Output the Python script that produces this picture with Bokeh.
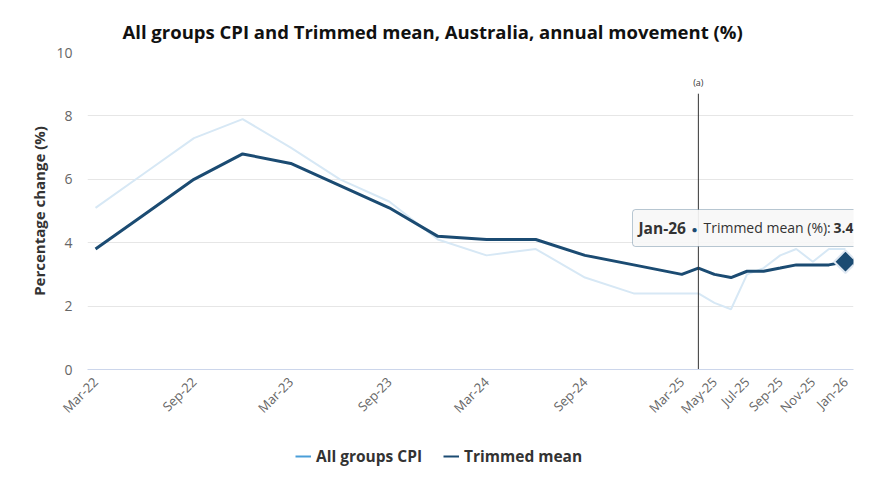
import pandas as pd
from math import pi
from bokeh.plotting import figure
from bokeh.layouts import column
from bokeh.models import (Range1d, FixedTicker, Legend, LegendItem, Label,
                          BoxAnnotation, DatetimeTickFormatter)
from bokeh.embed import file_html
from bokeh.resources import INLINE

# ---------------- data ----------------
dates = ["2022-03", "2022-06", "2022-09", "2022-12", "2023-03", "2023-06",
         "2023-09", "2023-12", "2024-03", "2024-06", "2024-09", "2024-12",
         "2025-03", "2025-04", "2025-05", "2025-06", "2025-07", "2025-08",
         "2025-09", "2025-10", "2025-11", "2025-12", "2026-01"]
all_groups_cpi = [5.1, 6.2, 7.3, 7.9, 7.0, 6.0, 5.3, 4.1, 3.6, 3.8, 2.9, 2.4,
                  2.4, 2.4, 2.1, 1.9, 3.0, 3.2, 3.6, 3.8, 3.4, 3.8, 3.8]
trimmed_mean = [3.8, 4.9, 6.0, 6.8, 6.5, 5.8, 5.1, 4.2, 4.1, 4.1, 3.6, 3.3,
                3.0, 3.2, 3.0, 2.9, 3.1, 3.1, 3.2, 3.3, 3.3, 3.3, 3.4]

tick_dates = ["2022-03", "2022-09", "2023-03", "2023-09", "2024-03", "2024-09",
              "2025-03", "2025-05", "2025-07", "2025-09", "2025-11", "2026-01"]
tick_labels = ["Mar-22", "Sep-22", "Mar-23", "Sep-23", "Mar-24", "Sep-24",
               "Mar-25", "May-25", "Jul-25", "Sep-25", "Nov-25", "Jan-26"]
y_ticks = [0, 2, 4, 6, 8, 10]

annotation_date = "2025-04"
annotation_text = "(a)"
annotation_top = 8.7

title_text = "All groups CPI and Trimmed mean, Australia, annual movement (%)"
y_label = "Percentage change (%)"
series_names = ["All groups CPI", "Trimmed mean"]
tooltip_date = "Jan-26"
tooltip_series = "Trimmed mean (%):"

# ---------------- styles ----------------
FONT = "Open Sans"
C_CPI_FADED = "#d7e8f5"
C_CPI = "#4a9ed8"
C_TM = "#1b4b72"

x = pd.to_datetime(dates)
to_ms = lambda d: pd.Timestamp(d).value // 10**6
pad = pd.Timedelta(days=15)

p = figure(width=870, height=430, x_axis_type="datetime",
           x_range=Range1d(x[0] - pad, x[-1] + pad), y_range=Range1d(0, 10),
           output_backend="svg", toolbar_location=None,
           min_border_left=87, min_border_right=17, min_border_top=52,
           min_border_bottom=61)
p.outline_line_color = None
p.background_fill_color = "white"
p.border_fill_color = "white"

# title
p.title.text = title_text
p.title.text_font = FONT
p.title.text_font_size = "18.5px"
p.title.text_font_style = "bold"
p.title.text_color = "#111111"
p.title.align = "left"
p.title.offset = 35
p.title.standoff = 18

# grid
p.xgrid.grid_line_color = None
p.ygrid.grid_line_color = "#e6e6e6"
p.ygrid.grid_line_width = 1

# y axis
p.yaxis.ticker = FixedTicker(ticks=y_ticks)
p.yaxis.axis_line_color = None
p.yaxis.major_tick_line_color = None
p.yaxis.major_tick_out = 0
p.yaxis.major_tick_in = 0
p.yaxis.minor_tick_line_color = None
p.yaxis.major_label_text_font = FONT
p.yaxis.major_label_text_font_size = "14px"
p.yaxis.major_label_text_color = "#666666"
p.yaxis.major_label_standoff = 15
p.yaxis.axis_label = y_label
p.yaxis.axis_label_text_font = FONT
p.yaxis.axis_label_text_font_size = "15px"
p.yaxis.axis_label_text_font_style = "bold"
p.yaxis.axis_label_text_color = "#333333"
p.yaxis.axis_label_standoff = 4

# x axis
p.xaxis.ticker = FixedTicker(ticks=[to_ms(d) for d in tick_dates])
p.xaxis.formatter = DatetimeTickFormatter(
    days="%b-%y", months="%b-%y", years="%b-%y", hours="%b-%y")
p.xaxis.major_label_overrides = {to_ms(d): l for d, l in zip(tick_dates, tick_labels)}
p.xaxis.major_label_orientation = pi / 4
p.xaxis.axis_line_color = "#ccd6eb"
p.xaxis.major_tick_line_color = None
p.xaxis.major_tick_out = 0
p.xaxis.major_tick_in = 0
p.xaxis.minor_tick_line_color = None
p.xaxis.major_label_text_font = FONT
p.xaxis.major_label_text_font_size = "13px"
p.xaxis.major_label_text_color = "#666666"
p.xaxis.major_label_standoff = 10

# lines
p.line(x, all_groups_cpi, line_color=C_CPI_FADED, line_width=2)
p.line(x, trimmed_mean, line_color=C_TM, line_width=3)

# annotation line
ann_x = pd.Timestamp(annotation_date)
p.segment(x0=[ann_x], y0=[0], x1=[ann_x], y1=[annotation_top],
          line_color="#333333", line_width=1)
p.add_layout(Label(x=ann_x, y=annotation_top, text=annotation_text,
                   text_font=FONT, text_font_size="9px", text_color="#333333",
                   text_align="center", text_baseline="bottom", y_offset=5))

# tooltip box
p.add_layout(BoxAnnotation(left=632, right=862, top=209, bottom=246,
                           left_units="canvas", right_units="canvas",
                           top_units="canvas", bottom_units="canvas",
                           fill_color="#f7f7f7", fill_alpha=0.92,
                           line_color=C_TM, line_width=1, border_radius=3))

# highlighted point
p.scatter([x[-1]], [trimmed_mean[-1]], marker="square", angle=pi / 4, size=16,
          fill_color=C_TM, line_color="#dfe8f2", line_width=2)

# tooltip texts
tx, ty = x[-1], trimmed_mean[-1]
p.add_layout(Label(x=tx, y=ty, x_offset=-207, y_offset=34, text=tooltip_date,
                   text_font=FONT, text_font_size="15.5px", text_font_style="bold",
                   text_color="#333333", text_baseline="middle"))
p.add_layout(Label(x=tx, y=ty, x_offset=-151, y_offset=33, text="\u25CF",
                   text_font=FONT, text_font_size="10px", text_color=C_TM,
                   text_align="center", text_baseline="middle"))
p.add_layout(Label(x=tx, y=ty, x_offset=-142, y_offset=34, text=tooltip_series,
                   text_font=FONT, text_font_size="14px",
                   text_color="#333333", text_baseline="middle"))
p.add_layout(Label(x=tx, y=ty, x_offset=8, y_offset=34,
                   text=f"{trimmed_mean[-1]:.1f}",
                   text_font=FONT, text_font_size="14px", text_font_style="bold",
                   text_color="#333333", text_baseline="middle",
                   text_align="right"))

# ---------------- legend strip ----------------
lg = figure(width=870, height=48, x_range=Range1d(0, 1), y_range=Range1d(0, 1),
            output_backend="svg", toolbar_location=None,
            min_border=0, min_border_left=0, min_border_right=0,
            min_border_top=0, min_border_bottom=0)
lg.axis.visible = False
lg.grid.visible = False
lg.outline_line_color = None
lg.border_fill_color = "white"
# proxy renderers, drawn outside the strip's ranges; only their legend glyphs show
r_cpi = lg.line([5, 6], [5, 6], line_color=C_CPI, line_width=2)
r_tm = lg.line([5, 6], [5, 6], line_color=C_TM, line_width=2)
legend = Legend(items=[LegendItem(label=series_names[0], renderers=[r_cpi]),
                       LegendItem(label=series_names[1], renderers=[r_tm])],
                orientation="horizontal", location=(208, 11),
                padding=0, margin=0, spacing=21, glyph_width=16,
                glyph_height=20, label_height=20, label_standoff=5,
                label_text_font=FONT, label_text_font_size="15.5px",
                label_text_font_style="bold", label_text_color="#333333",
                border_line_color=None, background_fill_alpha=0)
lg.add_layout(legend, "center")

layout = column(p, lg, spacing=0)
open("out.html", "w").write(file_html(layout, INLINE))
